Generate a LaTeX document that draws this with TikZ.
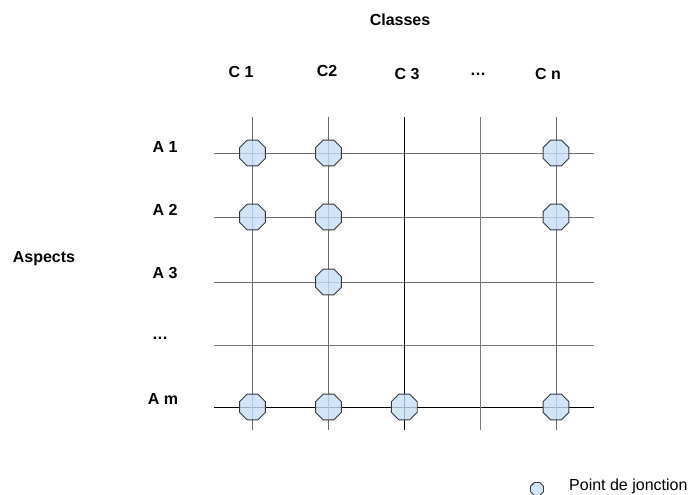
\documentclass[tikz,border=0pt]{standalone}
\usepackage{fontspec}
\setmainfont{Liberation Sans}
\usetikzlibrary{shapes.geometric}
\definecolor{jfill}{HTML}{C6DDF7}
\definecolor{jdraw}{HTML}{3A3A3A}
\definecolor{lgray}{HTML}{6A6A6A}
\tikzset{
  lbl/.style={font=\fontsize{16}{18}\selectfont\bfseries, inner sep=0pt},
  gline/.style={draw=lgray, line width=1pt},
  bline/.style={draw=black, line width=0.9pt},
  dline/.style={draw=lgray!90, line width=0.9pt},
  junc/.style={regular polygon, regular polygon sides=8, minimum size=28pt, inner sep=0pt, outer sep=0pt,
    fill=jfill, fill opacity=0.8, draw=jdraw, line width=0.9pt},
  legjunc/.style={junc, minimum size=14pt}
}
\begin{document}
\begin{tikzpicture}[x=1pt,y=-1pt]
\useasboundingbox (0,0) rectangle (699,495);
% labels
\node[lbl] (classes) at (400,20) {Classes};
\node[lbl] (c1) at (241,72) {C 1};
\node[lbl] (c2) at (327,71) {C2};
\node[lbl] (c3) at (407,74) {C 3};
\node[lbl] (cdots) at (478,74) {\dots};
\node[lbl] (cn) at (548,74) {C n};
\node[lbl] (aspects) at (44,259) {Aspects};
\node[lbl] (a1) at (165,147) {A 1};
\node[lbl] (a2) at (165,210) {A 2};
\node[lbl] (a3) at (165,273) {A 3};
\node[lbl] (adots) at (160,338) {\dots};
\node[lbl] (am) at (163,399) {A m};
% grid end points
\foreach \n/\y in {r1/153,r2/217,r3/282,r4/345,r5/407}{
  \coordinate (\n L) at (214,\y);
  \coordinate (\n R) at (594,\y);
}
\foreach \n/\x in {k1/252.5,k2/328.5,k3/404.3,k4/480.3,k5/556}{
  \coordinate (\n T) at (\x,117);
  \coordinate (\n B) at (\x,430);
}
\draw[gline] (r1L) -- (r1R);
\draw[gline] (r2L) -- (r2R);
\draw[gline] (r3L) -- (r3R);
\draw[dline] (r4L) -- (r4R);
\draw[bline] (r5L) -- (r5R);
\draw[gline] (k1T) -- (k1B);
\draw[gline] (k2T) -- (k2B);
\draw[bline] (k3T) -- (k3B);
\draw[dline] (k4T) -- (k4B);
\draw[gline] (k5T) -- (k5B);
% junction points
\node[junc] (j11) at (252.5,153) {};
\node[junc] (j12) at (328.5,153) {};
\node[junc] (j15) at (556,153) {};
\node[junc] (j21) at (252.5,217) {};
\node[junc] (j22) at (328.5,217) {};
\node[junc] (j25) at (556,217) {};
\node[junc] (j32) at (328.5,282) {};
\node[junc] (jm1) at (252.5,407) {};
\node[junc] (jm2) at (328.5,407) {};
\node[junc] (jm3) at (404.3,407) {};
\node[junc] (jm5) at (556,407) {};
% legend
\node[legjunc] (leg) at (537,489) {};
\node[font=\fontsize{16}{18}\selectfont, anchor=west, inner sep=0pt] (legtext) at (569,486) {Point de jonction};
\end{tikzpicture}
\end{document}
